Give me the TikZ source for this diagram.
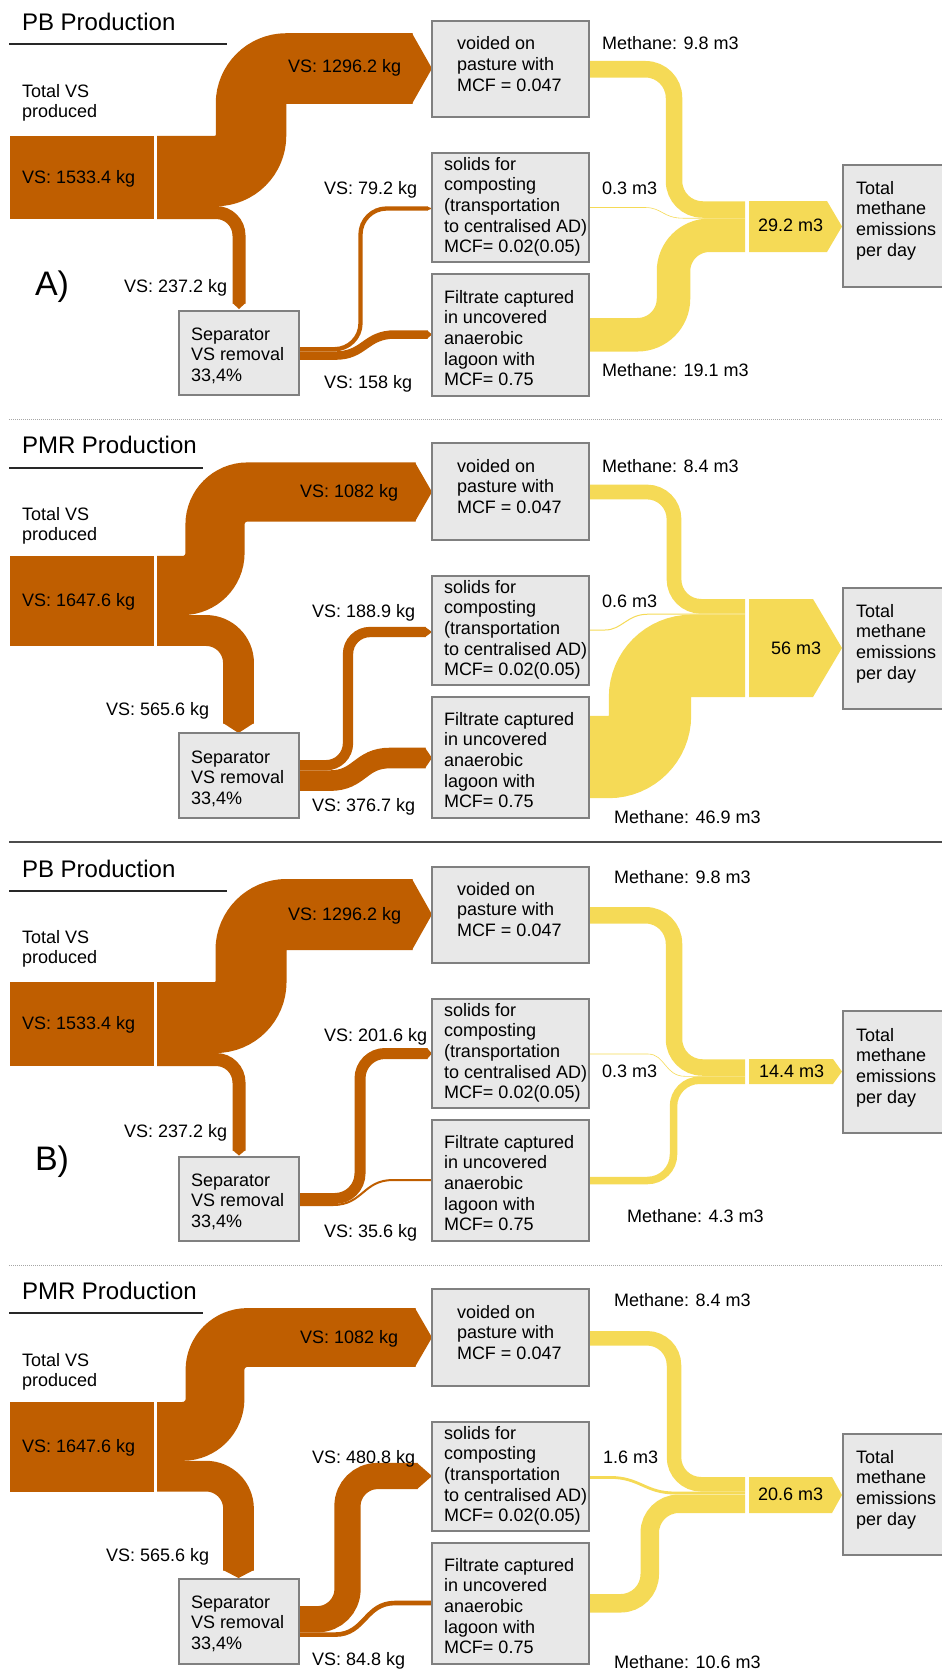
\documentclass[tikz,border=0pt]{standalone}
\usepackage{fontspec}
\setmainfont{Liberation Sans}
\definecolor{brownc}{RGB}{191,94,0}
\definecolor{yelc}{RGB}{245,218,86}
\definecolor{boxfill}{RGB}{232,232,232}
\definecolor{boxline}{RGB}{128,128,128}
\definecolor{rulec}{RGB}{40,40,40}
\newcommand{\stackedlines}[1]{\vtop{\halign{##\hfil\cr#1\crcr}}}
\begin{document}
\begin{tikzpicture}[x=1pt,y=-1pt,
  every node/.style={inner sep=0pt, outer sep=0pt, font=\fontsize{18}{20.7}\selectfont},
  lbl/.style={anchor=base west},
  ttl/.style={anchor=base west, font=\fontsize{24}{28}\selectfont},
  big/.style={anchor=base west, font=\fontsize{34}{40}\selectfont},
  box/.style={draw=boxline, fill=boxfill, line width=1.2pt, anchor=north west},
  srcbox/.style={fill=brownc, anchor=north west},
  bflow/.style={draw=brownc, line cap=butt},
  yflow/.style={draw=yelc, line cap=butt},
  uline/.style={draw=rulec, line width=1.2pt},
  dotline/.style={draw=gray!70, line width=1pt, dash pattern=on 1pt off 1pt},
  solidline/.style={draw=black!70, line width=1.3pt}]
\useasboundingbox (0,0) rectangle (942,1670);

% ================= separators =================
\coordinate (d1a) at (9,419); \coordinate (d1b) at (942,419);
\draw[dotline] (d1a) -- (d1b);
\coordinate (d2a) at (9,842); \coordinate (d2b) at (942,842);
\draw[solidline] (d2a) -- (d2b);
\coordinate (d3a) at (9,1265); \coordinate (d3b) at (942,1265);
\draw[dotline] (d3a) -- (d3b);

% ================= PANEL 1 =================
\node[ttl] (ttl1) at (22,31) {PB Production};
\coordinate (u1a) at (9,44); \coordinate (u1b) at (227,44);
\draw[uline] (u1a) -- (u1b);
\node[srcbox, minimum width=144pt, minimum height=83pt] (src1) at (10,136) {};
\draw[bflow, line width=70.5pt, rounded corners=35.25pt] (157,171) -| (251,68.5) -- (412.5,68.5);
\fill[brownc] (412,33.25) -- (432,68.5) -- (412,103.75) -- cycle;
\draw[bflow, line width=13pt, rounded corners=23pt] (157,212.5) -| (239,303.5);
\fill[brownc] (232.5,303) -- (239,309) -- (245.5,303) -- cycle;
\draw[bflow, line width=4.3pt, rounded corners=26pt] (299,349.2) -| (360.5,208.5) -- (427.5,208.5);
\fill[brownc] (427,206.35) -- (432,208.5) -- (427,210.65) -- cycle;
\draw[bflow, line width=8.5pt] (299,355.6) -- (335,355.6) .. controls (365,355.6) and (365,334.5) .. (395,334.5) -- (427.5,334.5);
\fill[brownc] (427,330.25) -- (432,334.5) -- (427,338.75) -- cycle;
\draw[yflow, line width=16.5pt, rounded corners=28.5pt] (589,69.25) -| (674,209.5) -- (745,209.5);
\draw[yflow, line width=0.6pt] (589,207.5) -- (645,207.5) .. controls (662,207.5) and (663,218.2) .. (683,218.2) -- (745,218.2);
\draw[yflow, line width=33.5pt, rounded corners=36pt] (589,334.75) -| (673.5,235.25) -- (745,235.25);
\fill[yelc] (749,201) -- (827,201) -- (842,226.5) -- (827,252) -- (749,252) -- cycle;
\node[box, minimum width=120pt, minimum height=84pt] (sep1) at (179,311) {};
\node[box, minimum width=157pt, minimum height=96pt] (v1) at (432,21) {};
\node[box, minimum width=157pt, minimum height=109pt] (s1) at (432,153) {};
\node[box, minimum width=157pt, minimum height=122pt] (f1) at (432,274) {};
\node[box, minimum width=110pt, minimum height=122pt] (t1) at (843,165) {};
\node[lbl] (tv1) at (22,97) {\stackedlines{Total VS\cr produced}};
\node[lbl] (sv1) at (22,183) {VS: 1533.4 kg};
\node[lbl] (l1a) at (288,73) {VS: 1296.2 kg};
\node[lbl] (l1b) at (124,292) {VS: 237.2 kg};
\node[big] (A) at (35,295) {A)};
\node[lbl] (sept1) at (191,340) {\stackedlines{Separator\cr VS removal\cr 33,4\%}};
\node[lbl] (l1c) at (324,194) {VS: 79.2 kg};
\node[lbl] (l1d) at (324,388) {VS: 158 kg};
\node[lbl] (vt1) at (457,50) {\stackedlines{voided on\cr pasture with\cr MCF = 0.047}};
\node[lbl] (st1) at (444,170) {\stackedlines{solids for\cr composting\cr (transportation\cr to centralised AD)\cr MCF= 0.02(0.05)}};
\node[lbl] (ft1) at (444,303) {\stackedlines{Filtrate captured\cr in uncovered\cr anaerobic\cr lagoon with\cr MCF= 0.75}};
\node[lbl] (tt1) at (856,194) {\stackedlines{Total\cr methane\cr emissions\cr per day}};
\node[lbl] (m1a) at (602,49) {Methane: 9.8 m3};
\node[lbl] (m1b) at (602,194) {0.3 m3};
\node[lbl] (m1c) at (602,376) {Methane: 19.1 m3};
\node[lbl] (m1d) at (758,231) {29.2 m3};

% ================= PANEL 2 =================
\node[ttl] (ttl2) at (22,453) {PMR Production};
\coordinate (u2a) at (9,468); \coordinate (u2b) at (203,468);
\draw[uline] (u2a) -- (u2b);
\node[srcbox, minimum width=144pt, minimum height=90pt] (src2) at (10,556) {};
\draw[bflow, line width=59.1pt, rounded corners=32.5pt] (157,585.5) -| (215,492) -- (415.5,492);
\fill[brownc] (415,462.45) -- (432,492) -- (415,521.55) -- cycle;
\draw[bflow, line width=30.9pt, rounded corners=32.5pt] (157,630.5) -| (238.5,723.5);
\fill[brownc] (223.05,723) -- (238.5,733) -- (253.95,723) -- cycle;
\draw[bflow, line width=10.3pt, rounded corners=22pt] (299,765.2) -| (348,632) -- (425.5,632);
\fill[brownc] (425,626.85) -- (432,632) -- (425,637.15) -- cycle;
\draw[bflow, line width=20.6pt] (299,780.6) -- (330,780.6) .. controls (360,780.6) and (360,758) .. (390,758) -- (425.5,758);
\fill[brownc] (425,747.7) -- (432,758) -- (425,768.3) -- cycle;
\draw[yflow, line width=14.7pt, rounded corners=27pt] (589,492) -| (674,606.35) -- (745,606.35);
\draw[yflow, line width=1pt] (589,630) -- (605,630) .. controls (622,630) and (627,614.2) .. (648,614.2) -- (745,614.2);
\draw[yflow, line width=82.3pt, rounded corners=41.5pt] (589,757) -| (650,655.85) -- (745,655.85);
\fill[yelc] (749,599) -- (813,599) -- (842,648) -- (813,697) -- (749,697) -- cycle;
\node[box, minimum width=120pt, minimum height=85pt] (sep2) at (179,733) {};
\node[box, minimum width=157pt, minimum height=97pt] (v2) at (432,443) {};
\node[box, minimum width=157pt, minimum height=109pt] (s2) at (432,576) {};
\node[box, minimum width=157pt, minimum height=121pt] (f2) at (432,697) {};
\node[box, minimum width=110pt, minimum height=121pt] (t2) at (843,588) {};
\node[lbl] (tv2) at (22,520) {\stackedlines{Total VS\cr produced}};
\node[lbl] (sv2) at (22,606) {VS: 1647.6 kg};
\node[lbl] (l2a) at (300,497) {VS: 1082 kg};
\node[lbl] (l2b) at (106,715) {VS: 565.6 kg};
\node[lbl] (sept2) at (191,763) {\stackedlines{Separator\cr VS removal\cr 33,4\%}};
\node[lbl] (l2c) at (312,617) {VS: 188.9 kg};
\node[lbl] (l2d) at (312,811) {VS: 376.7 kg};
\node[lbl] (vt2) at (457,472) {\stackedlines{voided on\cr pasture with\cr MCF = 0.047}};
\node[lbl] (st2) at (444,593) {\stackedlines{solids for\cr composting\cr (transportation\cr to centralised AD)\cr MCF= 0.02(0.05)}};
\node[lbl] (ft2) at (444,725) {\stackedlines{Filtrate captured\cr in uncovered\cr anaerobic\cr lagoon with\cr MCF= 0.75}};
\node[lbl] (tt2) at (856,617) {\stackedlines{Total\cr methane\cr emissions\cr per day}};
\node[lbl] (m2a) at (602,472) {Methane: 8.4 m3};
\node[lbl] (m2b) at (602,607) {0.6 m3};
\node[lbl] (m2c) at (614,823) {Methane: 46.9 m3};
\node[lbl] (m2d) at (771,654) {56 m3};

% ================= PANEL 3 =================
\node[ttl] (ttl3) at (22,877) {PB Production};
\coordinate (u3a) at (9,891); \coordinate (u3b) at (227,891);
\draw[uline] (u3a) -- (u3b);
\node[srcbox, minimum width=144pt, minimum height=84pt] (src3) at (10,982) {};
\draw[bflow, line width=71pt, rounded corners=35.5pt] (157,1017.5) -| (251,914.5) -- (412.5,914.5);
\fill[brownc] (412,879) -- (432,914.5) -- (412,950) -- cycle;
\draw[bflow, line width=13pt, rounded corners=23pt] (157,1059.5) -| (239,1150.5);
\fill[brownc] (232.5,1150) -- (239,1155.5) -- (245.5,1150) -- cycle;
\draw[bflow, line width=11pt, rounded corners=25pt] (299,1198.5) -| (360,1053.5) -- (427.5,1053.5);
\fill[brownc] (427,1048) -- (432,1053.5) -- (427,1059) -- cycle;
\draw[bflow, line width=2pt] (299,1205) -- (333,1205) .. controls (363,1205) and (363,1180) .. (393,1180) -- (432,1180);
\draw[yflow, line width=16.5pt, rounded corners=28.5pt] (589,915.25) -| (674,1067.5) -- (745,1067.5);
\draw[yflow, line width=0.6pt] (589,1054) -- (648,1054) .. controls (665,1054) and (665,1076.3) .. (685,1076.3) -- (745,1076.3);
\draw[yflow, line width=7.5pt, rounded corners=26pt] (589,1180.5) -| (673.5,1080.25) -- (745,1080.25);
\fill[yelc] (749,1059) -- (833,1059) -- (842,1071.5) -- (833,1084) -- (749,1084) -- cycle;
\node[box, minimum width=120pt, minimum height=84pt] (sep3) at (179,1157) {};
\node[box, minimum width=157pt, minimum height=96pt] (v3) at (432,867) {};
\node[box, minimum width=157pt, minimum height=109pt] (s3) at (432,999) {};
\node[box, minimum width=157pt, minimum height=121pt] (f3) at (432,1120) {};
\node[box, minimum width=110pt, minimum height=122pt] (t3) at (843,1011) {};
\node[lbl] (tv3) at (22,943) {\stackedlines{Total VS\cr produced}};
\node[lbl] (sv3) at (22,1029) {VS: 1533.4 kg};
\node[lbl] (l3a) at (288,920) {VS: 1296.2 kg};
\node[lbl] (l3b) at (124,1137) {VS: 237.2 kg};
\node[big] (B) at (35,1170) {B)};
\node[lbl] (sept3) at (191,1186) {\stackedlines{Separator\cr VS removal\cr 33,4\%}};
\node[lbl] (l3c) at (324,1041) {VS: 201.6 kg};
\node[lbl] (l3d) at (324,1237) {VS: 35.6 kg};
\node[lbl] (vt3) at (457,895) {\stackedlines{voided on\cr pasture with\cr MCF = 0.047}};
\node[lbl] (st3) at (444,1016) {\stackedlines{solids for\cr composting\cr (transportation\cr to centralised AD)\cr MCF= 0.02(0.05)}};
\node[lbl] (ft3) at (444,1148) {\stackedlines{Filtrate captured\cr in uncovered\cr anaerobic\cr lagoon with\cr MCF= 0.75}};
\node[lbl] (tt3) at (856,1041) {\stackedlines{Total\cr methane\cr emissions\cr per day}};
\node[lbl] (m3a) at (614,883) {Methane: 9.8 m3};
\node[lbl] (m3b) at (602,1077) {0.3 m3};
\node[lbl] (m3c) at (627,1222) {Methane: 4.3 m3};
\node[lbl] (m3d) at (759,1077) {14.4 m3};

% ================= PANEL 4 =================
\node[ttl] (ttl4) at (22,1299) {PMR Production};
\coordinate (u4a) at (9,1313); \coordinate (u4b) at (203,1313);
\draw[uline] (u4a) -- (u4b);
\node[srcbox, minimum width=144pt, minimum height=89.5pt] (src4) at (10,1402) {};
\draw[bflow, line width=58.8pt, rounded corners=32.5pt] (157,1431.4) -| (215,1337.5) -- (415.5,1337.5);
\fill[brownc] (415,1308.1) -- (432,1337.5) -- (415,1366.9) -- cycle;
\draw[bflow, line width=30.7pt, rounded corners=32.5pt] (157,1476.15) -| (238.5,1570.5);
\fill[brownc] (223.15,1570) -- (238.5,1578) -- (253.85,1570) -- cycle;
\draw[bflow, line width=26.3pt, rounded corners=30pt] (299,1619.2) -| (347.5,1476) -- (417.5,1476);
\fill[brownc] (417,1462.85) -- (432,1476) -- (417,1489.15) -- cycle;
\draw[bflow, line width=4.6pt] (299,1634.6) -- (335,1634.6) .. controls (365,1634.6) and (365,1603) .. (395,1603) -- (432,1603);
\draw[yflow, line width=14.5pt, rounded corners=27pt] (589,1338.25) -| (674,1484.25) -- (745,1484.25);
\draw[yflow, line width=2.8pt] (589,1477.4) -- (610,1477.4) .. controls (640,1477.4) and (645,1493) .. (675,1493) -- (745,1493);
\draw[yflow, line width=18.5pt, rounded corners=29pt] (589,1603.25) -| (649.75,1503.75) -- (745,1503.75);
\fill[yelc] (749,1477) -- (832,1477) -- (842,1495) -- (832,1513) -- (749,1513) -- cycle;
\node[box, minimum width=120pt, minimum height=85pt] (sep4) at (179,1579) {};
\node[box, minimum width=157pt, minimum height=97pt] (v4) at (432,1289) {};
\node[box, minimum width=157pt, minimum height=109pt] (s4) at (432,1422) {};
\node[box, minimum width=157pt, minimum height=121pt] (f4) at (432,1543) {};
\node[box, minimum width=110pt, minimum height=121pt] (t4) at (843,1434) {};
\node[lbl] (tv4) at (22,1366) {\stackedlines{Total VS\cr produced}};
\node[lbl] (sv4) at (22,1452) {VS: 1647.6 kg};
\node[lbl] (l4a) at (300,1343) {VS: 1082 kg};
\node[lbl] (l4b) at (106,1561) {VS: 565.6 kg};
\node[lbl] (sept4) at (191,1608) {\stackedlines{Separator\cr VS removal\cr 33,4\%}};
\node[lbl] (l4c) at (312,1463) {VS: 480.8 kg};
\node[lbl] (l4d) at (312,1665) {VS: 84.8 kg};
\node[lbl] (vt4) at (457,1318) {\stackedlines{voided on\cr pasture with\cr MCF = 0.047}};
\node[lbl] (st4) at (444,1439) {\stackedlines{solids for\cr composting\cr (transportation\cr to centralised AD)\cr MCF= 0.02(0.05)}};
\node[lbl] (ft4) at (444,1571) {\stackedlines{Filtrate captured\cr in uncovered\cr anaerobic\cr lagoon with\cr MCF= 0.75}};
\node[lbl] (tt4) at (856,1463) {\stackedlines{Total\cr methane\cr emissions\cr per day}};
\node[lbl] (m4a) at (614,1306) {Methane: 8.4 m3};
\node[lbl] (m4b) at (603,1463) {1.6 m3};
\node[lbl] (m4c) at (614,1668) {Methane: 10.6 m3};
\node[lbl] (m4d) at (758,1500) {20.6 m3};
\end{tikzpicture}
\end{document}
